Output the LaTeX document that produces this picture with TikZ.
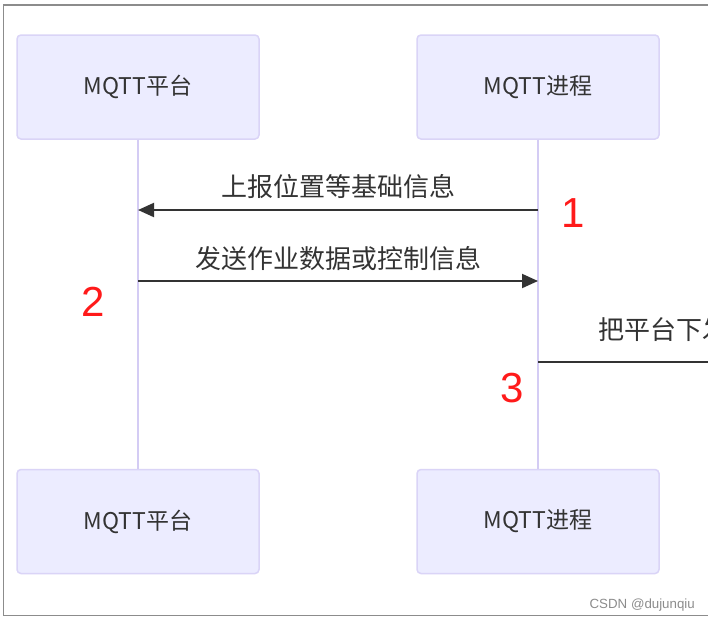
\documentclass[tikz,border=0pt]{standalone}
\usepackage{fontspec}
\setmainfont{Noto Sans CJK SC}
\newfontfamily\numfont{Liberation Sans}
\usetikzlibrary{arrows.meta}
\definecolor{boxfill}{HTML}{ECECFF}
\definecolor{boxline}{HTML}{DAD4F7}
\definecolor{lifeline}{HTML}{D4CCF4}
\definecolor{ink}{HTML}{333333}
\definecolor{framegray}{HTML}{8C8C8C}
\definecolor{mark}{HTML}{FF1A1A}
\tikzset{
  actor/.style={draw=boxline, line width=1.5pt, fill=boxfill, rounded corners=4pt,
    minimum width=242pt, minimum height=104pt, inner sep=0pt,
    font=\fontsize{23}{27}\selectfont, text=ink},
  life/.style={draw=lifeline, line width=2pt},
  msg/.style={draw=ink, line width=2pt, -{Triangle[length=16pt,width=14pt]}},
  msgplain/.style={draw=ink, line width=2pt},
  lbl/.style={font=\fontsize{26}{30}\selectfont, text=ink, inner sep=0pt},
  num/.style={font=\numfont\fontsize{42}{44}\selectfont, text=mark, inner sep=0pt},
  wm/.style={font=\numfont\fontsize{13.3}{15}\selectfont, text=black!45, inner sep=0pt}
}
\begin{document}
\begin{tikzpicture}[x=1pt,y=-1pt]
\clip (0,0) rectangle (708,622);
\fill[white] (0,0) rectangle (708,622);
% frame
\draw[framegray, line width=1.5pt] (720,5) -- (3.5,5) -- (3.5,615.5) -- (720,615.5);
% actors
\node[actor] (pt) at (138,87) {MQTT平台};
\node[actor] (jt) at (538,87) {MQTT进程};
\node[actor] (pb) at (138,521.5) {MQTT平台};
\node[actor] (jb) at (538,521.5) {MQTT进程};
% lifelines
\draw[life] (pt.south) -- (pb.north);
\draw[life] (jt.south) -- (jb.north);
% message points
\coordinate (a1) at (pt.south |- 0,210);
\coordinate (b1) at (jt.south |- 0,210);
\coordinate (a2) at (pt.south |- 0,281);
\coordinate (b2) at (jt.south |- 0,281);
\coordinate (b3) at (jt.south |- 0,362);
\coordinate (e3) at (730,362);
% messages
\draw[msg] (b1) -- (a1);
\node[lbl] (l1) at (338,187) {上报位置等基础信息};
\draw[msg] (a2) -- (b2);
\node[lbl] (l2) at (338,259) {发送作业数据或控制信息};
\draw[msgplain] (b3) -- (e3);
\node[lbl, anchor=west] (l3) at (598,330) {把平台下发};
% numbers
\node[num] (n1) at (573,213) {1};
\node[num] (n2) at (93,302) {2};
\node[num] (n3) at (512,388) {3};
% watermark
\node[wm, anchor=east] (w) at (695,605) {CSDN @dujunqiu};
\end{tikzpicture}
\end{document}
